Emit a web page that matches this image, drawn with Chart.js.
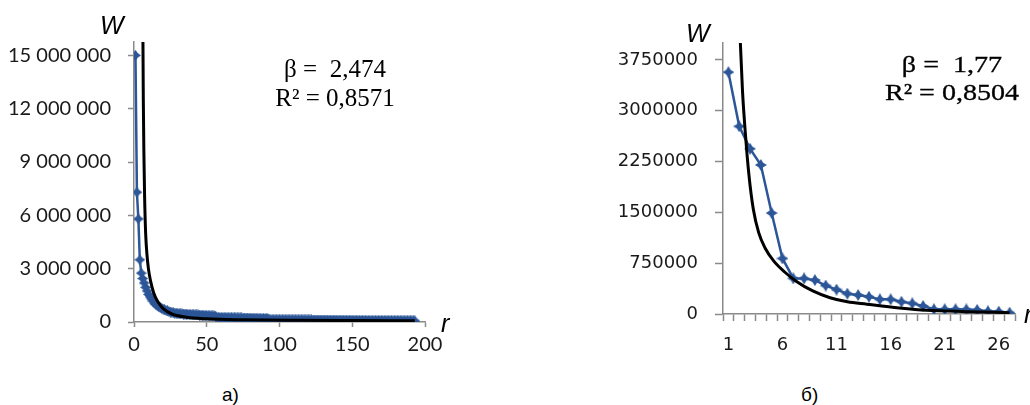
<!DOCTYPE html>
<html><head><meta charset="utf-8">
<script src="https://cdn.jsdelivr.net/npm/chart.js@4.4.1/dist/chart.umd.min.js"></script>
<style>
html,body{margin:0;padding:0;background:#fff;width:1030px;height:405px;overflow:hidden;position:relative}
.box{position:absolute}
.lbl{position:absolute;font-family:"Liberation Sans",Arial,sans-serif;font-style:italic;font-size:25px;line-height:25px;color:#000;white-space:nowrap}
.ann{position:absolute;font-family:"Liberation Serif","Times New Roman",serif;font-size:25px;line-height:29px;color:#000;white-space:pre;text-align:center}
.cap{position:absolute;font-family:"Liberation Sans",Arial,sans-serif;font-size:19px;line-height:19px;color:#000;white-space:nowrap}
</style></head><body>
<div class="box" style="left:0;top:0;width:450px;height:360px"><canvas id="cA" width="450" height="360"></canvas></div>
<div class="box" style="left:560px;top:0;width:470px;height:360px"><canvas id="cB" width="470" height="360"></canvas></div>

<div class="lbl" style="left:100px;top:13px">W</div>
<div class="lbl" style="left:441px;top:311px">r</div>
<div class="lbl" style="left:686px;top:21px">W</div>
<div class="lbl" style="left:1024px;top:302px">r</div>

<div class="ann" style="left:255px;top:54px;width:160px">β =  2,474
R² = 0,8571</div>
<div class="ann" style="left:872px;top:51px;width:160px;font-size:23px;line-height:28px;transform:scaleX(1.22);-webkit-text-stroke:0.3px #000">β =  1,77
R² = 0,8504</div>

<div class="cap" style="left:222px;top:385px">а)</div>
<div class="cap" style="left:801px;top:385px">б)</div>

<script>
// ---------- data: chart а) ----------
const wA = [
15000000,7300000,5800000,3500000,2750000,2450000,2200000,1950000,1750000,1550000,
1420000,1300000,1180000,1070000,980000,920000,860000,810000,770000,730000,
690000,650000,620000,590000,560000,540000,520000,500000,490000,480000,
470000,460000,455000,450000,445000,440000,430000,425000,420000,415000,
410000,405000,400000,395000,390000,385000,380000,375000,370000,365000,
360000,355000,350000,345000,340000,335000,
260000,258000,256000,254000,252000,250000,248000,246000,244000,242000,
240000,238000,236000,234000,232000,230000,228000,226000,224000,222000,
220000,218000,216000,214000,212000,210000,208000,206000,204000,202000,
200000,199000,198000,197000,196000,195000,
130000,130000,129000,129000,128000,128000,127000,127000,126000,126000,
125000,125000,124000,123000,123000,122000,121000,121000,120000,119000,
119000,118000,117000,117000,116000,115000,115000,114000,113000,113000,
112000,111000,111000,110000,109000,109000,108000,107000,107000,106000,
105000,105000,104000,103000,103000,102000,101000,101000,100000,99000,
99000,98000,97000,97000,96000,95000,95000,94000,93000,93000,
92000,91000,91000,90000,89000,89000,88000,87000,87000,86000,
85000,85000,84000,83000,83000,82000,81000,81000,80000,79000,
79000,78000,77000,77000,76000,75000,75000,74000,73000,73000,
72000,71000,71000,70000,69000,69000,68000,67000,67000,66000,
65000
];
const fitAx = [6.1, 6.4, 6.8, 7.3, 8.0, 8.9, 9.9, 11.4, 13.5, 16.5, 20.5, 26, 35, 50, 75, 110, 150, 193];
const fitAy = [16500000, 12500000, 9500000, 7000000, 5000000, 3800000, 3000000, 2300000, 1650000, 1120000, 720000, 450000, 280000, 180000, 125000, 95000, 80000, 70000];
const xTicksA = [0, 50, 100, 150, 200];
const yTicksA = [0, 3000000, 6000000, 9000000, 12000000, 15000000];

// ---------- data: chart б) ----------
const wB = [3570000, 2770000, 2440000, 2200000, 1490000, 820000, 525000, 525000, 500000, 420000,
            360000, 300000, 280000, 255000, 216000, 216000, 180000, 157000, 118000, 70000,
            70000, 70000, 68000, 60000, 40000, 35000, 20000];
const fitBx = [2.0, 2.3, 2.6, 2.9, 3.3, 3.8, 4.4, 5.2, 6.2, 7.3, 8.8, 10.4, 12, 13.8, 16.8, 19.3, 23, 27];
const fitBy = [4400000, 3300000, 2600000, 2050000, 1550000, 1200000, 970000, 780000, 620000, 480000, 340000, 240000, 180000, 145000, 90000, 55000, 35000, 20000];
const xLabelsB = [1, 6, 11, 16, 21, 26];
const yTicksB = [0, 750000, 1500000, 2250000, 3000000, 3750000];

const BLUE = '#2C5697';
const AXIS = '#8a8a8a';

function star(size, color, inner){
  const c = document.createElement('canvas'); c.width = c.height = size;
  const g = c.getContext('2d'); const m = size/2, R = size/2, r = size*inner;
  g.fillStyle = color; g.beginPath();
  for (let k = 0; k < 8; k++) {
    const a = k*Math.PI/4 - Math.PI/2; const rad = (k % 2) ? r : R;
    g.lineTo(m + rad*Math.cos(a), m + rad*Math.sin(a));
  }
  g.closePath(); g.fill(); return c;
}
const spaced = v => String(v).replace(/\B(?=(\d{3})+(?!\d))/g, ' ');

// ---------- chart а) ----------
const rankA = wA.map((_, i) => i + 1);
const fontA = {family: 'Lato, "Liberation Sans", sans-serif', size: 20};
new Chart(document.getElementById('cA'), {
  type: 'scatter',
  data: {datasets: [
    {data: fitAx.map((x, i) => ({x, y: fitAy[i]})), showLine: true, borderColor: '#000', borderWidth: 3,
     pointRadius: 0, cubicInterpolationMode: 'monotone', order: 0},
    {data: rankA.map((x, i) => ({x, y: wA[i]})), showLine: true, borderColor: BLUE, borderWidth: 2.5,
     pointStyle: star(11, BLUE, 0.3), pointRadius: 5, order: 1}
  ]},
  options: {
    responsive: false, animation: false, events: [],
    layout: {padding: {top: 42, right: 25, bottom: 0, left: 0}},
    plugins: {legend: {display: false}, tooltip: {enabled: false}},
    scales: {
      x: {type: 'linear', min: 0, max: 200,
          afterBuildTicks: s => { s.ticks = xTicksA.map(v => ({value: v})); },
          afterFit: s => { s.height = 38; },
          grid: {drawOnChartArea: false, drawTicks: true, tickLength: 5, tickColor: AXIS, tickWidth: 1.5},
          border: {display: true, color: AXIS, width: 1.5},
          ticks: {font: fontA, color: '#1a1a1a', padding: 6, maxRotation: 0, autoSkip: false}},
      y: {type: 'linear', min: 0, max: 15750000,
          afterBuildTicks: s => { s.ticks = yTicksA.map(v => ({value: v})); },
          afterFit: s => { s.width = 134; },
          grid: {drawOnChartArea: false, drawTicks: true, tickLength: 6, tickColor: AXIS, tickWidth: 1.5},
          border: {display: true, color: AXIS, width: 1.5},
          ticks: {font: fontA, color: '#1a1a1a', padding: 17, autoSkip: false, callback: v => spaced(v)}}
    }
  }
});

// ---------- chart б) ----------
const catB = wB.map((_, i) => i + 1);
const fontB = {family: '"DejaVu Sans", Verdana, sans-serif', size: 18};
const xTickValsB = [];
for (let k = 0; k <= 27; k++) xTickValsB.push(k + 0.5);
new Chart(document.getElementById('cB'), {
  type: 'scatter',
  data: {datasets: [
    {data: fitBx.map((x, i) => ({x, y: fitBy[i]})), showLine: true, borderColor: '#000', borderWidth: 3,
     pointRadius: 0, cubicInterpolationMode: 'monotone', order: 0},
    {data: catB.map((x, i) => ({x, y: wB[i]})), showLine: true, borderColor: BLUE, borderWidth: 2.5,
     pointStyle: star(12, BLUE, 0.27), pointRadius: 6, order: 1}
  ]},
  options: {
    responsive: false, animation: false, events: [],
    layout: {padding: {top: 43, right: 15, bottom: 0, left: 0}},
    plugins: {legend: {display: false}, tooltip: {enabled: false}},
    scales: {
      x: {type: 'linear', min: 0.5, max: 27.5,
          afterBuildTicks: s => { s.ticks = xTickValsB.concat(xLabelsB).sort((a, b) => a - b).map(v => ({value: v})); },
          afterFit: s => { s.height = 46; },
          grid: {drawOnChartArea: false, drawTicks: true, tickLength: 7, tickWidth: 1.5,
                 tickColor: c => (c.tick && Number.isInteger(c.tick.value)) ? 'rgba(0,0,0,0)' : AXIS},
          border: {display: true, color: AXIS, width: 1.5},
          ticks: {font: fontB, color: '#1a1a1a', padding: 14, maxRotation: 0, autoSkip: false,
                  callback: v => xLabelsB.includes(v) ? String(v) : ''}},
      y: {type: 'linear', min: 0, max: 4000000,
          afterBuildTicks: s => { s.ticks = yTicksB.map(v => ({value: v})); },
          afterFit: s => { s.width = 163; },
          grid: {drawOnChartArea: false, drawTicks: true, tickLength: 8, tickColor: AXIS, tickWidth: 1.5},
          border: {display: true, color: AXIS, width: 1.5},
          ticks: {font: fontB, color: '#1a1a1a', padding: 17, autoSkip: false, callback: v => String(v)}}
    }
  }
});
</script>
</body></html>
